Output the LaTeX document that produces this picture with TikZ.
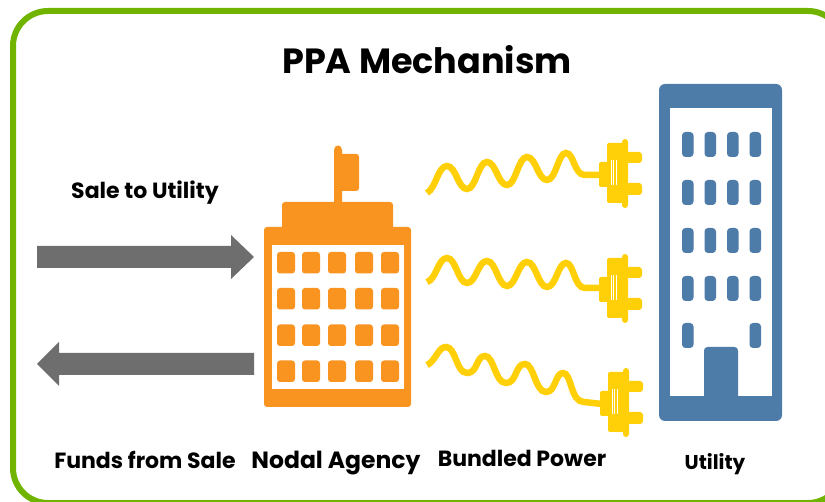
\documentclass[tikz,border=0pt]{standalone}
\usepackage{fontspec}
\setmainfont{Poppins}
\definecolor{framegreen}{HTML}{70B400}
\definecolor{agencyorange}{HTML}{F99420}
\definecolor{plugyellow}{HTML}{FFD008}
\definecolor{utilityblue}{HTML}{4D7CA8}
\definecolor{arrowgray}{HTML}{6E6E6E}
\tikzset{
  caption/.style={font=\bfseries\fontsize{22}{26}\selectfont,inner sep=0pt,anchor=base},
  flowarrow/.style={fill=arrowgray},
  agencypart/.style={fill=agencyorange,rounded corners=3pt},
  utilitypart/.style={fill=utilityblue,rounded corners=3.5pt},
  cable/.style={draw=plugyellow,line width=6.5pt,line cap=butt},
  plugpart/.style={fill=plugyellow,rounded corners=2pt}
}
\newcommand{\plug}[1]{% plug with its cable joint at (#1)
  \begin{scope}[shift={(#1)}]
    \fill[plugpart] (-1,-12) rectangle (9,13);
    \fill[plugpart] (7,-31) rectangle (24,29);
    \fill[plugpart,rounded corners=3pt] (22,-35) rectangle (28,34);
    \fill[plugpart,rounded corners=3pt] (26,-22) rectangle (42,-11);
    \fill[plugpart,rounded corners=3pt] (26,9) rectangle (42,21);
    \draw[white,line width=.5pt] (11,-14) -- (11,11) (13.5,-14) -- (13.5,11) (16,-14) -- (16,11);
  \end{scope}}
\begin{document}
\begin{tikzpicture}[x=1pt,y=-1pt]
  \useasboundingbox (0,0) rectangle (825,502);
  \begin{scope}
    \clip (0,0) rectangle (825,502);
    \draw[framegreen,line width=6pt,rounded corners=35pt] (13,11) rectangle (843,503);
  \end{scope}
  \node[caption,font=\bfseries\fontsize{35}{40}\selectfont] (title) at (427,74) {PPA Mechanism};
  % arrows
  \fill[flowarrow] (37,246) -- (231,246) -- (231,235) -- (254,257) -- (231,279) -- (231,268) -- (37,268) -- cycle;
  \fill[flowarrow] (254,353) -- (59,353) -- (59,342) -- (37,364) -- (59,386) -- (59,375) -- (254,375) -- cycle;
  % agency building
  \fill[agencyorange] (334,203) -- (334,150) .. controls (334,144) and (342,144) .. (342,150) -- (342,154)
    -- (356,154) .. controls (358,154) and (359,155) .. (359,157) -- (359,188) .. controls (359,190) and (358,191) .. (356,191)
    -- (342,191) -- (342,203) -- cycle;
  \fill[agencypart] (282,235) rectangle (393,202);
  \fill[agencypart] (264,227) rectangle (411,407);
  \fill[white] (272,245) rectangle (404,389);
  \foreach \wx in {277,302,328,355,381}
    \foreach \wy in {252,288,324.5,360.5}
      \fill[agencypart] (\wx,\wy) rectangle ++(18,21.5);
  % utility building
  \fill[utilitypart,rounded corners=6pt] (659,84) rectangle (782,421);
  \fill[white] (670,108) rectangle (772,396);
  \foreach \wx in {682,704.5,727,749.5}
    \foreach \wy in {132,180,228,276}
      \fill[utilitypart] (\wx,\wy) rectangle ++(11.5,25);
  \fill[utilitypart] (682,323) rectangle ++(11.5,25);
  \fill[utilitypart] (749.5,323) rectangle ++(11.5,25);
  \fill[utilitypart] (704,347) rectangle (738,402);
  % cables
  \draw[cable] (427,193) .. controls (436,188) and (438,166) .. (447,166)
    .. controls (456,166) and (458,189) .. (467,189)
    .. controls (476,189) and (478,162) .. (487,162)
    .. controls (496,162) and (498,185) .. (507,185)
    .. controls (516,185) and (518,157) .. (527,157)
    .. controls (536,157) and (538,180) .. (547,180)
    .. controls (556,180) and (558,153) .. (566,153)
    .. controls (574,153) and (574,175) .. (585,175) -- (601,175);
  \plug{600,174}
  \draw[cable] (427,282) .. controls (436,280) and (438,258) .. (447,258)
    .. controls (456,258) and (458,283) .. (467,283)
    .. controls (476,283) and (478,261) .. (487,261)
    .. controls (496,261) and (498,286) .. (507,286)
    .. controls (516,286) and (518,262) .. (527,262)
    .. controls (536,262) and (538,287) .. (547,287)
    .. controls (556,287) and (558,263) .. (566,263)
    .. controls (574,263) and (574,288) .. (585,288) -- (601,288);
  \plug{600,289}
  \draw[cable] (427,365) .. controls (435,362) and (438,347) .. (446,347)
    .. controls (456,347) and (456,373) .. (467,373)
    .. controls (478,373) and (476,356) .. (485,356)
    .. controls (494,356) and (495,383) .. (506,383)
    .. controls (517,383) and (515,364) .. (525,364)
    .. controls (534,364) and (535,392) .. (546,392)
    .. controls (556,392) and (555,373) .. (563,373)
    .. controls (572,373) and (570,402) .. (584,402) -- (602,404);
  \plug{601,403}
  % labels
  \node[caption] (saleto) at (145,199) {Sale to Utility};
  \node[caption] (funds) at (145,468) {Funds from Sale};
  \node[caption,font=\bfseries\fontsize{23.5}{26}\selectfont] (nodal) at (336,468) {Nodal Agency};
  \node[caption] (bundled) at (522,467) {Bundled Power};
  \node[caption,font=\bfseries\fontsize{20}{26}\selectfont] (utility) at (715,470) {Utility};
\end{tikzpicture}
\end{document}
